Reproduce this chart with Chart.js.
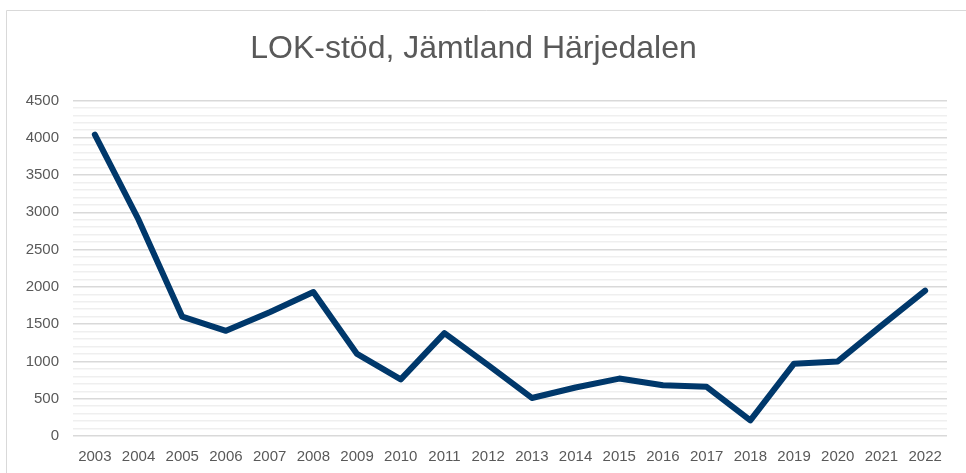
<!DOCTYPE html>
<html>
<head>
<meta charset="utf-8">
<script src="https://cdn.jsdelivr.net/npm/chart.js@4"></script>
<style>
  body { margin: 0; background: #fff; }
  #wrap { position: relative; width: 966px; height: 473px; }
</style>
</head>
<body>
<div id="wrap"><canvas id="lokChart" width="966" height="473"></canvas></div>
<script>
// Data
const years = ['2003', '2004', '2005', '2006', '2007', '2008', '2009', '2010', '2011', '2012',
               '2013', '2014', '2015', '2016', '2017', '2018', '2019', '2020', '2021', '2022'];
const lokStod = [4040, 2900, 1600, 1410, 1660, 1930, 1100, 760, 1380, 950,
                 510, 650, 770, 680, 660, 210, 970, 1000, 1480, 1950];
const yMax = 4500;
const yMajorStep = 500;

// light frame like the Excel chart area
const framePlugin = {
    id: 'frame',
    beforeDraw(chart) {
        const c = chart.ctx;
        c.save();
        c.strokeStyle = '#d9d9d9';
        c.lineWidth = 1;
        c.beginPath();
        c.moveTo(6.5, 473);
        c.lineTo(6.5, 10.5);
        c.lineTo(966, 10.5);
        c.stroke();
        c.restore();
    }
};

const ctx = document.getElementById('lokChart');
const chart = new Chart(ctx, {
    type: 'line',
    data: {
        labels: years,
        datasets: [{
            label: 'LOK-stöd',
            data: lokStod,
            borderColor: '#00386b',
            borderWidth: 6,
            borderCapStyle: 'round',
            borderJoinStyle: 'round',
            pointRadius: 0,
            tension: 0,
            fill: false
        }]
    },
    options: {
        responsive: false,
        animation: false,
        layout: { padding: { left: 0, right: 19, top: 0, bottom: 0 } },
        plugins: {
            legend: { display: false },
            tooltip: { enabled: false },
            title: {
                display: true,
                text: 'LOK-stöd, Jämtland Härjedalen',
                color: '#595959',
                font: { family: 'Liberation Sans, Arial, sans-serif', size: 32, weight: 'normal' },
                padding: { top: 30, bottom: 32 }
            }
        },
        scales: {
            x: {
                offset: true,
                grid: { display: false },
                border: { display: false },
                ticks: {
                    color: '#595959',
                    font: { family: 'Liberation Sans, Arial, sans-serif', size: 15 },
                    maxRotation: 0,
                    autoSkip: false,
                    padding: 4
                },
                afterFit(s) { s.height = 37; }
            },
            y: {
                min: 0,
                max: yMax,
                border: { display: false },
                grid: {
                    drawTicks: false,
                    color: (c) => (c.tick && c.tick.value % yMajorStep === 0) ? '#d9d9d9' : '#efefef',
                    lineWidth: 1.5
                },
                ticks: {
                    stepSize: 100,
                    autoSkip: false,
                    color: '#595959',
                    font: { family: 'Liberation Sans, Arial, sans-serif', size: 15 },
                    padding: 14,
                    callback: (v) => (v % yMajorStep === 0 ? v : '')
                },
                afterFit(s) { s.width = 73; }
            }
        }
    },
    plugins: [framePlugin]
});
</script>
</body>
</html>
